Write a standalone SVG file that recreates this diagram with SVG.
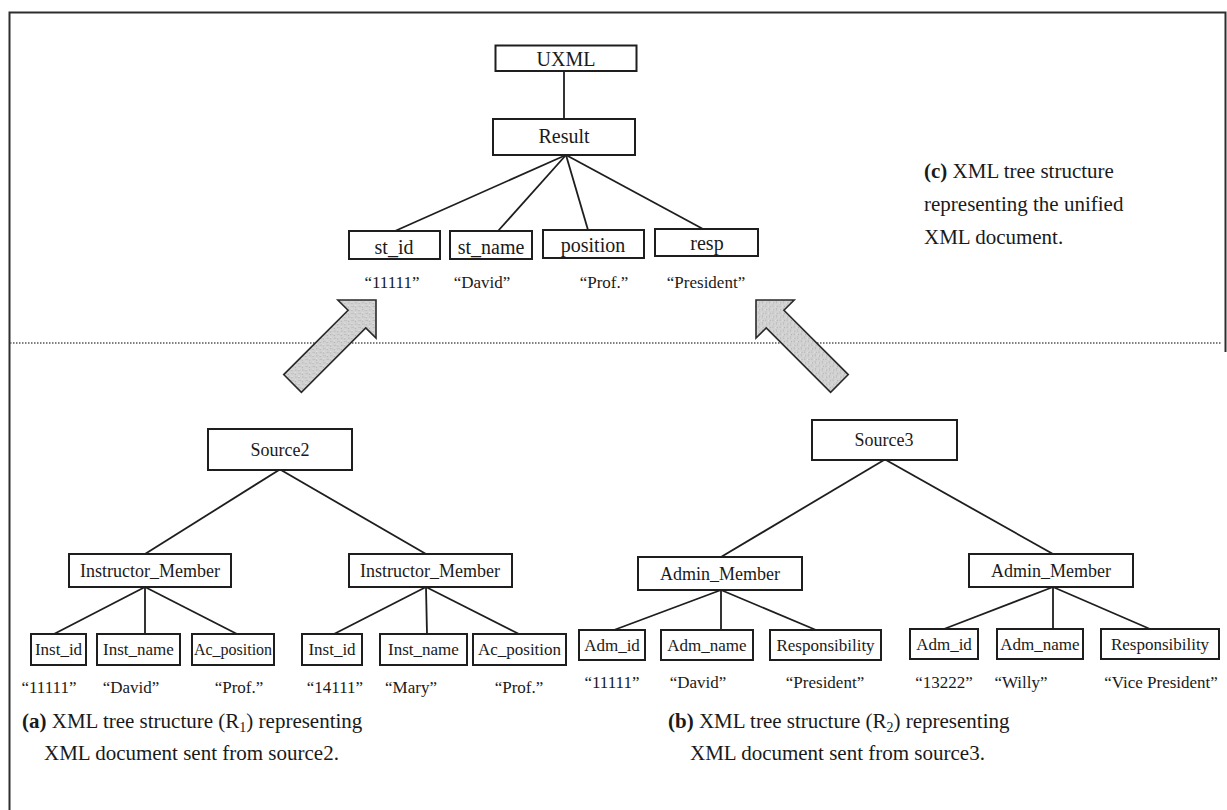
<svg xmlns="http://www.w3.org/2000/svg" width="1227" height="810" viewBox="0 0 1227 810">
  <style>
    .frame { fill: none; stroke: #2e2e2e; stroke-width: 2; }
    .sep { fill: none; stroke: #555; stroke-width: 1.6; stroke-dasharray: 1.5 1.5; }
    .box { fill: #fff; stroke: #1e1e1e; stroke-width: 2; }
    .edge { fill: none; stroke: #1e1e1e; stroke-width: 1.8; }
    .big { fill: url(#stipple); stroke: #2a2a2a; stroke-width: 1.6; stroke-linejoin: miter; }
    text { font-family: "Liberation Serif", "Times New Roman", serif; fill: #1a1a1a; }
    .lt { font-size: 20px; text-anchor: middle; }
    .lb { font-size: 18px; text-anchor: middle; }
    .ll { font-size: 17px; text-anchor: middle; }
    .ls { font-size: 16px; text-anchor: middle; }
    .val { font-size: 17px; text-anchor: middle; }
    .cap { font-size: 21px; }
    .cap .b { font-weight: bold; }
  </style>
  <defs>
    <!-- light grey stippled fill for the wide arrows -->
    <pattern id="stipple" width="5" height="5" patternUnits="userSpaceOnUse">
      <rect width="5" height="5" fill="#d2d2d2"/>
      <rect x="0" y="0" width="1" height="1" fill="#a9a9a9"/>
      <rect x="3" y="2" width="1" height="1" fill="#b3b3b3"/>
      <rect x="1" y="4" width="1" height="1" fill="#e6e6e6"/>
      <rect x="4" y="3" width="1" height="1" fill="#bcbcbc"/>
    </pattern>
    <!-- block arrow pointing along +x, tip at the origin -->
    <path id="blockArrow" d="M0,0 L-27,-27 L-27,-12.5 L-118,-12.5 L-118,12.5 L-27,12.5 L-27,27 Z"/>
  </defs>

  <rect width="1227" height="810" fill="#fff"/>

  <!-- outer frame: left edge runs to the bottom, right edge only beside the upper panel -->
  <path class="frame" d="M9.5,812 V12.5 H1225.5 V352"/>
  <!-- dotted separator between the unified tree and the source trees -->
  <line class="sep" x1="10" y1="343" x2="1222" y2="343"/>

  <g id="connectors">
    <!-- unified tree -->
    <line class="edge" x1="564" y1="71" x2="564" y2="119"/>
    <line class="edge" x1="566" y1="155" x2="395" y2="231"/>
    <line class="edge" x1="566" y1="155" x2="498" y2="231"/>
    <line class="edge" x1="566" y1="155" x2="588" y2="230"/>
    <line class="edge" x1="566" y1="155" x2="703" y2="229"/>
    <!-- source2 tree -->
    <line class="edge" x1="279" y1="470" x2="145" y2="554"/>
    <line class="edge" x1="281" y1="470" x2="426" y2="554"/>
    <line class="edge" x1="145" y1="587" x2="54" y2="634"/>
    <line class="edge" x1="145" y1="587" x2="145" y2="634"/>
    <line class="edge" x1="145" y1="587" x2="237" y2="634"/>
    <line class="edge" x1="426" y1="587" x2="334" y2="634"/>
    <line class="edge" x1="426" y1="587" x2="427" y2="634"/>
    <line class="edge" x1="426" y1="587" x2="519" y2="634"/>
    <!-- source3 tree -->
    <line class="edge" x1="884" y1="460" x2="721" y2="557"/>
    <line class="edge" x1="886" y1="460" x2="1053" y2="554"/>
    <line class="edge" x1="721" y1="590" x2="614" y2="630"/>
    <line class="edge" x1="721" y1="590" x2="721" y2="630"/>
    <line class="edge" x1="721" y1="590" x2="816" y2="630"/>
    <line class="edge" x1="1053" y1="587" x2="944" y2="629"/>
    <line class="edge" x1="1053" y1="587" x2="1053" y2="629"/>
    <line class="edge" x1="1053" y1="587" x2="1150" y2="629"/>
    <!-- wide arrows feeding the unified tree -->
    <use href="#blockArrow" class="big" transform="translate(376,300) rotate(-45)"/>
    <use href="#blockArrow" class="big" transform="translate(756,300) rotate(-135)"/>
  </g>

  <!-- unified XML tree -->
  <g id="n-uxml"><rect class="box" x="495.5" y="45.5" width="141" height="25.5"/><text class="lt" x="566" y="66">UXML</text></g>
  <g id="n-result"><rect class="box" x="493" y="119" width="142" height="36"/><text class="lt" x="564" y="143">Result</text></g>
  <g id="n-st_id"><rect class="box" x="349" y="231" width="91" height="28"/><text class="lt" x="394" y="254">st_id</text><text class="val" x="392" y="288">“11111”</text></g>
  <g id="n-st_name"><rect class="box" x="450" y="231" width="82" height="28"/><text class="lt" x="491" y="254">st_name</text><text class="val" x="482" y="288">“David”</text></g>
  <g id="n-position"><rect class="box" x="543" y="230" width="101" height="28"/><text class="lt" x="593" y="252">position</text><text class="val" x="604" y="288">“Prof.”</text></g>
  <g id="n-resp"><rect class="box" x="655" y="229" width="103" height="27"/><text class="lt" x="707" y="250">resp</text><text class="val" x="706" y="288">“President”</text></g>

  <text class="cap" x="924" y="178"><tspan class="b">(c)</tspan> XML tree structure</text>
  <text class="cap" x="924" y="211">representing the unified</text>
  <text class="cap" x="924" y="244">XML document.</text>

  <!-- source2 tree -->
  <g id="n-source2"><rect class="box" x="208" y="429" width="144" height="41"/><text class="lb" x="280" y="456">Source2</text></g>
  <g id="n-im1"><rect class="box" x="69" y="554" width="162" height="33"/><text class="lb" x="150" y="577">Instructor_Member</text></g>
  <g id="n-im2"><rect class="box" x="349" y="554" width="163" height="33"/><text class="lb" x="430" y="577">Instructor_Member</text></g>
  <g id="n-inst_id1"><rect class="box" x="31" y="634" width="55" height="31"/><text class="ll" x="58.5" y="655">Inst_id</text><text class="val" x="49" y="693">“11111”</text></g>
  <g id="n-inst_name1"><rect class="box" x="97" y="634" width="83" height="31"/><text class="ll" x="138.5" y="655">Inst_name</text><text class="val" x="131" y="693">“David”</text></g>
  <g id="n-ac_pos1"><rect class="box" x="192" y="634" width="82" height="31"/><text class="ls" x="233" y="655">Ac_position</text><text class="val" x="239" y="693">“Prof.”</text></g>
  <g id="n-inst_id2"><rect class="box" x="302" y="634" width="60" height="31"/><text class="ll" x="332" y="655">Inst_id</text><text class="val" x="335" y="693">“14111”</text></g>
  <g id="n-inst_name2"><rect class="box" x="380" y="634" width="87" height="31"/><text class="ll" x="423.5" y="655">Inst_name</text><text class="val" x="411" y="693">“Mary”</text></g>
  <g id="n-ac_pos2"><rect class="box" x="473" y="634" width="93" height="31"/><text class="ll" x="519.5" y="655">Ac_position</text><text class="val" x="519" y="693">“Prof.”</text></g>

  <!-- source3 tree -->
  <g id="n-source3"><rect class="box" x="812" y="420" width="145" height="40"/><text class="lb" x="884" y="446">Source3</text></g>
  <g id="n-am1"><rect class="box" x="638" y="557" width="164" height="33"/><text class="lb" x="720" y="580">Admin_Member</text></g>
  <g id="n-am2"><rect class="box" x="969" y="554" width="164" height="33"/><text class="lb" x="1051" y="577">Admin_Member</text></g>
  <g id="n-adm_id1"><rect class="box" x="579" y="630" width="66" height="30"/><text class="ll" x="612" y="651">Adm_id</text><text class="val" x="612" y="688">“11111”</text></g>
  <g id="n-adm_name1"><rect class="box" x="661" y="630" width="92" height="30"/><text class="ll" x="707" y="651">Adm_name</text><text class="val" x="698" y="688">“David”</text></g>
  <g id="n-resp1"><rect class="box" x="770" y="630" width="111" height="30"/><text class="ll" x="825.5" y="651">Responsibility</text><text class="val" x="825" y="688">“President”</text></g>
  <g id="n-adm_id2"><rect class="box" x="910" y="629" width="68" height="30"/><text class="ll" x="944" y="650">Adm_id</text><text class="val" x="944" y="688">“13222”</text></g>
  <g id="n-adm_name2"><rect class="box" x="997" y="629" width="86" height="30"/><text class="ll" x="1040" y="650">Adm_name</text><text class="val" x="1021" y="688">“Willy”</text></g>
  <g id="n-resp2"><rect class="box" x="1101" y="629" width="118" height="30"/><text class="ll" x="1160" y="650">Responsibility</text><text class="val" x="1161" y="688">“Vice President”</text></g>

  <!-- captions for the two source trees -->
  <text class="cap" x="22" y="728"><tspan class="b">(a)</tspan> XML tree structure (R<tspan font-size="14" dy="4">1</tspan><tspan dy="-4">) representing</tspan></text>
  <text class="cap" x="44" y="760">XML document sent from source2.</text>
  <text class="cap" x="668" y="728"><tspan class="b">(b)</tspan> XML tree structure (R<tspan font-size="14" dy="4">2</tspan><tspan dy="-4">) representing</tspan></text>
  <text class="cap" x="690" y="760">XML document sent from source3.</text>
</svg>
